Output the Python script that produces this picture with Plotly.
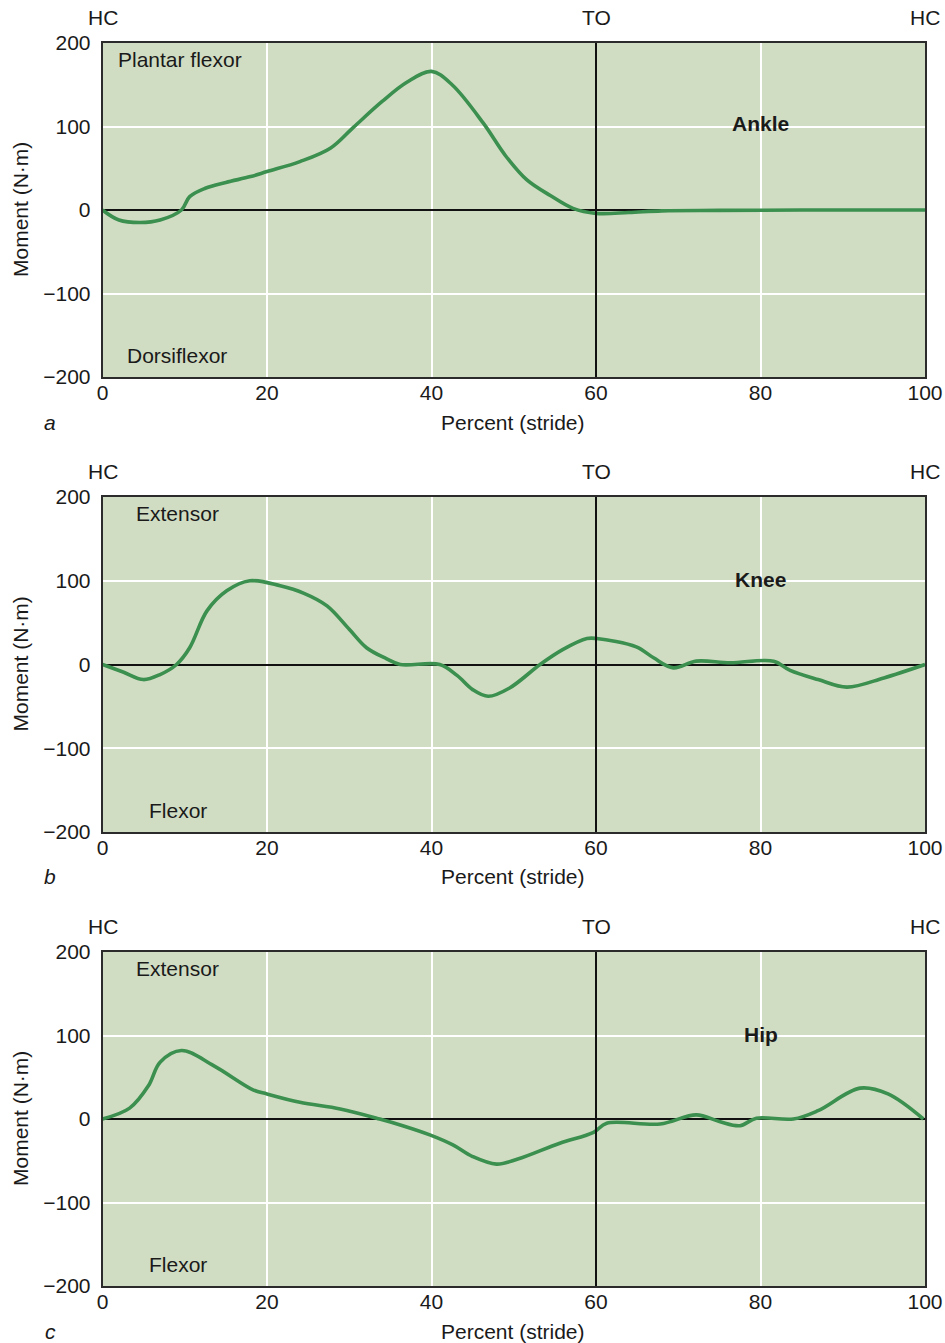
import plotly.graph_objects as go

# ---- data ----
ankle_x = [0, 2, 4.6, 7, 9.6, 10.6, 12.5, 15, 18, 20, 24, 27.7, 30.5, 34, 37, 40, 42.5, 46.3, 49, 51.6, 54.5, 57.2, 60, 64, 68, 75, 85, 100]
ankle_y = [0, -12, -15, -12, 0, 16, 26, 33, 40, 46, 58, 74, 99, 130, 153, 166, 150, 104, 65, 36, 17, 2, -4, -3, -1, -0.5, 0, 0]

knee_x = [0, 2.5, 4.96, 7, 9.0, 10.6, 12.7, 15.1, 17.9, 21.6, 24.5, 27.3, 30, 32.1, 34.5, 36.2, 41.0, 43.1, 45, 46.9, 49.5, 53.2, 56, 58.9, 60.1, 64.9, 67, 69.4, 72.2, 76.3, 81.6, 83.6, 87, 90.5, 95, 100]
knee_y = [0, -9, -18, -12, 0, 20, 64, 88, 100, 94, 85, 70, 42, 20, 7, 0, 0, -13, -30, -38, -28, 0, 18, 31, 31, 21, 8, -4, 4, 2, 4, -7, -18, -27, -16, 0]

hip_x = [0, 3.3, 5.6, 7.0, 9.6, 13.5, 18.3, 20, 24, 28.9, 33.7, 36.5, 39.8, 42.6, 45, 47.9, 50.5, 55.6, 59.7, 61.3, 67.8, 72.2, 75, 77.5, 79.5, 84, 87, 92.1, 95.5, 99.8]
hip_y = [0, 13, 40, 68, 82, 64, 35, 30, 20, 12, 0, -8, -19, -31, -45, -54, -48, -29, -16, -5, -6, 5, -3, -8, 1, 0, 10, 37, 30, 0]

x_ticks = [0, 20, 40, 60, 80, 100]
y_ticks = [-200, -100, 0, 100, 200]
y_tick_text = ["\u2212200", "\u2212100", "0", "100", "200"]

panels = [
    dict(x=ankle_x, y=ankle_y, name="Ankle", top="Plantar flexor", bottom="Dorsiflexor", letter="a"),
    dict(x=knee_x, y=knee_y, name="Knee", top="Extensor", bottom="Flexor", letter="b"),
    dict(x=hip_x, y=hip_y, name="Hip", top="Extensor", bottom="Flexor", letter="c"),
]

W, H = 945, 1343
x_dom = [102.5 / W, 925 / W]
y_px = [(43, 377), (497, 832), (952, 1286)]

BG = "#d1ddc3"
LINE = "#3b8f4f"
FONT = "Liberation Sans, Arial, Helvetica, sans-serif"
FS = 21

fig = go.Figure()
annotations = []
shapes = []
layout = {}
txt = dict(family=FONT, size=FS, color="#1a1a1a")

for i, p in enumerate(panels):
    n = "" if i == 0 else str(i + 1)
    xa, ya = "x" + n, "y" + n
    top, bot = y_px[i]
    y_dom = [1 - bot / H, 1 - top / H]

    fig.add_trace(go.Scatter(x=p["x"], y=p["y"], mode="lines", xaxis=xa, yaxis=ya,
                             line=dict(color=LINE, width=3.6, shape="spline", smoothing=1.0),
                             showlegend=False, hoverinfo="skip"))

    layout["xaxis" + n] = dict(domain=x_dom, anchor=ya, range=[0, 100], tickvals=x_ticks,
                               showgrid=True, gridcolor="white", gridwidth=2,
                               showline=True, linecolor="#2b2b2b", linewidth=1.6, mirror=True,
                               zeroline=False, ticks="", ticklabelstandoff=-4, automargin=False,
                               tickfont=txt, fixedrange=True)
    layout["yaxis" + n] = dict(domain=y_dom, anchor=xa, range=[-200, 200], tickvals=y_ticks,
                               ticktext=y_tick_text,
                               showgrid=True, gridcolor="white", gridwidth=2,
                               showline=True, linecolor="#2b2b2b", linewidth=1.6, mirror=True,
                               zeroline=True, zerolinecolor="#111111", zerolinewidth=2,
                               ticks="", ticklabelstandoff=6, automargin=False,
                               tickfont=txt, fixedrange=True)

    # toe-off vertical line
    shapes.append(dict(type="line", xref=xa, yref=ya + " domain", x0=60, x1=60, y0=0, y1=1,
                       line=dict(color="#111111", width=2), layer="above"))

    for xv, label in [(0, "HC"), (60, "TO"), (100, "HC")]:
        annotations.append(dict(x=xv, y=1, xref=xa, yref=ya + " domain", text=label,
                                showarrow=False, xanchor="center", yanchor="bottom", yshift=12, font=txt))
    annotations.append(dict(x=1.65 if i == 0 else 3.85, y=180, xref=xa, yref=ya, text=p["top"],
                            showarrow=False, xanchor="left", yanchor="middle", font=txt))
    annotations.append(dict(x=2.75 if i == 0 else 5.4, y=-174, xref=xa, yref=ya, text=p["bottom"],
                            showarrow=False, xanchor="left", yanchor="middle", font=txt))
    annotations.append(dict(x=80, y=103 if i == 0 else 101, xref=xa, yref=ya,
                            text="<b>" + p["name"] + "</b>", showarrow=False,
                            xanchor="center", yanchor="middle", font=txt))
    # axis titles
    annotations.append(dict(x=513 / W, y=1 - (bot + 45) / H, xref="paper", yref="paper",
                            text="Percent (stride)", showarrow=False,
                            xanchor="center", yanchor="middle", font=txt))
    annotations.append(dict(x=20 / W, y=1 - ((top + bot) / 2) / H, xref="paper", yref="paper",
                            text="Moment (N\u00b7m)", textangle=-90, showarrow=False,
                            xanchor="center", yanchor="middle", font=txt))
    annotations.append(dict(x=50 / W, y=1 - (bot + 45) / H, xref="paper", yref="paper",
                            text="<i>" + p["letter"] + "</i>", showarrow=False,
                            xanchor="center", yanchor="middle", font=txt))

fig.update_layout(**layout)
fig.update_layout(width=W, height=H, margin=dict(l=0, r=0, t=0, b=0, autoexpand=False),
                  paper_bgcolor="white", plot_bgcolor=BG,
                  annotations=annotations, shapes=shapes,
                  font=dict(family=FONT, size=FS))

fig.write_html("out.html", config={"displayModeBar": False},
               post_script="document.body.style.margin='0';")
